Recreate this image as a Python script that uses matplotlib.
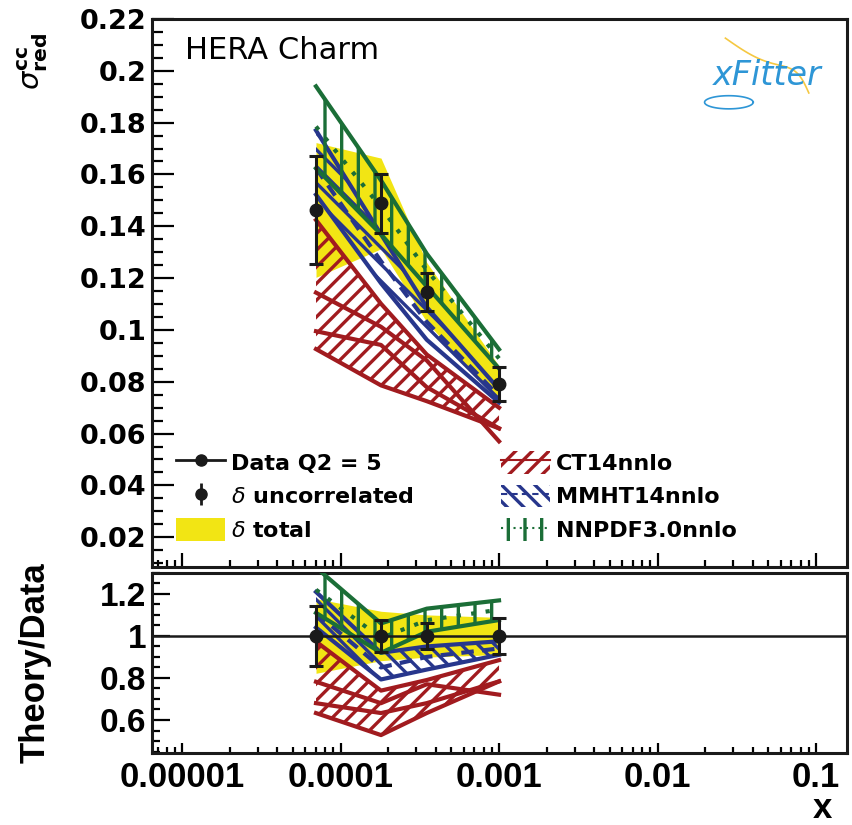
import numpy as np
import matplotlib.pyplot as plt
from matplotlib.lines import Line2D
from matplotlib.patches import Patch
from matplotlib.ticker import FixedLocator, MultipleLocator, NullFormatter, LogLocator

plt.rcParams['hatch.linewidth'] = 2.4

# --- HERA charm, Q2 = 5
x = [0.00007, 0.00018, 0.00035, 0.001]
sigma = [0.1463, 0.1488, 0.1145, 0.0791]
err_unc = [0.0210, 0.0115, 0.0073, 0.0067]
err_tot = [0.0260, 0.0175, 0.0115, 0.0070]

# --- theory predictions (sigma_red)
ct14_up = [0.1424, 0.1101, 0.0905, 0.0700]
ct14_mid1 = [0.1144, 0.1012, 0.0882, 0.0570]
ct14_mid2 = [0.0995, 0.0942, 0.0779, 0.0620]
ct14_lo = [0.0926, 0.0786, 0.0725, 0.0620]

mmht_up = [0.1770, 0.1369, 0.1088, 0.0771]
mmht_c = [0.1624, 0.1265, 0.1031, 0.0744]
mmht_lo = [0.1522, 0.1180, 0.0962, 0.0720]

nnpdf_up = [0.1940, 0.1577, 0.1294, 0.0925]
nnpdf_c = [0.1785, 0.1473, 0.1231, 0.0890]
nnpdf_lo = [0.1624, 0.1369, 0.1168, 0.0851]

xticks = [0.00001, 0.0001, 0.001, 0.01, 0.1]
xticklabels = ['0.00001', '0.0001', '0.001', '0.01', '0.1']

RED = '#a11b1f'
BLUE = '#27368c'
GREEN = '#1b6e37'
YELLOW = '#f2e514'
BLACK = '#1a1a1a'

x = np.array(x)
sigma = np.array(sigma)
err_unc = np.array(err_unc)
err_tot = np.array(err_tot)

fig = plt.figure(figsize=(8.53, 8.25), dpi=100)
ax1 = fig.add_axes([0.1782, 0.3127, 0.8148, 0.6643])
ax2 = fig.add_axes([0.1782, 0.0873, 0.8148, 0.2182])


def draw_panel(ax, norm):
    ax.fill_between(x, (sigma - err_tot) / norm, (sigma + err_tot) / norm,
                    color=YELLOW, lw=0, zorder=1)
    # CT14
    up, lo = np.array(ct14_up) / norm, np.array(ct14_lo) / norm
    ax.fill_between(x, lo, up, facecolor='none', edgecolor=RED, hatch='//', lw=0, zorder=2)
    for s in (ct14_up, ct14_mid1, ct14_mid2, ct14_lo):
        ax.plot(x, np.array(s) / norm, color=RED, lw=3, zorder=3)
    # MMHT
    up, lo = np.array(mmht_up) / norm, np.array(mmht_lo) / norm
    ax.fill_between(x, lo, up, facecolor='none', edgecolor=BLUE, hatch='\\\\', lw=0, zorder=4)
    ax.plot(x, up, color=BLUE, lw=3, zorder=5)
    ax.plot(x, lo, color=BLUE, lw=3, zorder=5)
    ax.plot(x, np.array(mmht_c) / norm, color=BLUE, lw=3, ls=(0, (3, 2)), zorder=5)
    # NNPDF
    up, lo = np.array(nnpdf_up) / norm, np.array(nnpdf_lo) / norm
    ax.fill_between(x, lo, up, facecolor='none', edgecolor=GREEN, hatch='|', lw=0, zorder=6)
    ax.plot(x, up, color=GREEN, lw=3, zorder=7)
    ax.plot(x, lo, color=GREEN, lw=3, zorder=7)
    ax.plot(x, np.array(nnpdf_c) / norm, color=GREEN, lw=3, ls=(0, (1, 2.5)), zorder=7)
    # data
    ax.errorbar(x, sigma / norm, yerr=err_unc / norm, fmt='o', color=BLACK, ms=9,
                elinewidth=2.2, capsize=5, capthick=2.2, zorder=10)


draw_panel(ax1, 1.0)
draw_panel(ax2, sigma)
ax2.axhline(1.0, color=BLACK, lw=1.8, zorder=8)

for ax in (ax1, ax2):
    ax.set_xscale('log')
    ax.set_xlim(6.46e-6, 0.157)
    ax.xaxis.set_major_locator(FixedLocator(xticks))
    ax.xaxis.set_minor_locator(LogLocator(base=10, subs=np.arange(2, 10)))
    ax.xaxis.set_minor_formatter(NullFormatter())
    for sp in ax.spines.values():
        sp.set_linewidth(2.2)
        sp.set_color(BLACK)

ax1.set_ylim(0.0085, 0.22)
ax1.yaxis.set_minor_locator(MultipleLocator(0.005))
ax1.set_yticks(np.arange(0.02, 0.2201, 0.02))
ax1.set_yticklabels(['%g' % round(v, 2) for v in np.arange(0.02, 0.2201, 0.02)],
                    fontsize=19.5, fontweight='bold')
ax1.set_xticklabels([])
ax1.tick_params(axis='y', which='major', direction='in', length=16, width=1.6, pad=4, right=False)
ax1.tick_params(axis='y', which='minor', direction='in', length=8, width=1.6, right=False)
ax1.tick_params(axis='x', which='major', direction='in', length=10, width=1.6, top=False)
ax1.tick_params(axis='x', which='minor', direction='in', length=5, width=1.6, top=False)

ax2.set_ylim(0.443, 1.30)
ax2.set_yticks([0.6, 0.8, 1.0, 1.2])
ax2.set_yticklabels(['0.6', '0.8', '1', '1.2'], fontsize=24, fontweight='bold',
                    family='Liberation Sans')
ax2.yaxis.set_minor_locator(MultipleLocator(0.05))
ax2.set_xticklabels(xticklabels, fontsize=25, fontweight='bold', family='Liberation Sans')
ax2.tick_params(axis='y', which='major', direction='in', length=13, width=1.6, pad=4, right=False)
ax2.tick_params(axis='y', which='minor', direction='in', length=6, width=1.6, right=False)
ax2.tick_params(axis='x', which='major', direction='in', length=7, width=1.6, pad=6, top=False)
ax2.tick_params(axis='x', which='minor', direction='in', length=4, width=1.6, top=False)

ax2.set_ylabel('Theory/Data', fontsize=25, fontweight='bold', family='Liberation Sans')
ax2.yaxis.set_label_coords(-0.145, 0.5)
fig.text(0.975, 0.0, 'x', fontsize=25, fontweight='bold', family='Liberation Sans',
         ha='right', va='bottom')
fig.text(0.039, 0.925, r'$\sigma^{\mathbf{cc}}_{\mathbf{red}}$', fontsize=21, rotation=90,
         ha='center', va='center')

ax1.text(0.0475, 0.943, 'HERA Charm', transform=ax1.transAxes, fontsize=22,
         ha='left', va='center')

# xFitter logo
ax1.text(0.885, 0.897, 'xFitter', transform=ax1.transAxes, fontsize=24,
         style='italic', color='#2e96d6', ha='center', va='center')
t = np.linspace(0, 1, 60)
ax1.plot(0.825 + 0.12 * t + 0.02 * np.sin(np.pi * t), 0.965 - 0.10 * t - 0.01 * np.sin(2 * np.pi * t),
         transform=ax1.transAxes, color='#f5c842', lw=1.2)
ax1.plot(0.83 + 0.035 * np.cos(2 * np.pi * t), 0.848 + 0.012 * np.sin(2 * np.pi * t),
         transform=ax1.transAxes, color='#2e96d6', lw=1.2)

# legend
h_data = Line2D([], [], color=BLACK, marker='o', ms=8, lw=2)
h_unc = (Line2D([], [], color=BLACK, marker='|', ms=16, mew=2, ls='none'),
         Line2D([], [], color=BLACK, marker='o', ms=8, ls='none'))
h_tot = Patch(facecolor=YELLOW, edgecolor='none')
h_ct = (Patch(facecolor='none', edgecolor=RED, hatch='//', lw=0), Line2D([], [], color=RED, lw=1.5))
h_mm = (Patch(facecolor='none', edgecolor=BLUE, hatch='\\\\', lw=0),
        Line2D([], [], color=BLUE, lw=1.5, ls=(0, (3, 2))))
h_nn = (Patch(facecolor='none', edgecolor=GREEN, hatch='|', lw=0),
        Line2D([], [], color=GREEN, lw=1.5, ls=(0, (1, 2))))
leg = ax1.legend([h_data, h_unc, h_tot, h_ct, h_mm, h_nn],
                 ['Data Q2 = 5', r'$\delta$ uncorrelated', r'$\delta$ total',
                  'CT14nnlo', 'MMHT14nnlo', 'NNPDF3.0nnlo'],
                 ncol=2, loc='upper left', bbox_to_anchor=(0.035, 0.2117), frameon=False,
                 prop={'weight': 'bold', 'size': 16}, handlelength=2.2, handleheight=1.2,
                 handletextpad=0.25, labelspacing=0.48, columnspacing=3.95,
                 borderpad=0, borderaxespad=0)

fig.savefig('out.png', dpi=100)
